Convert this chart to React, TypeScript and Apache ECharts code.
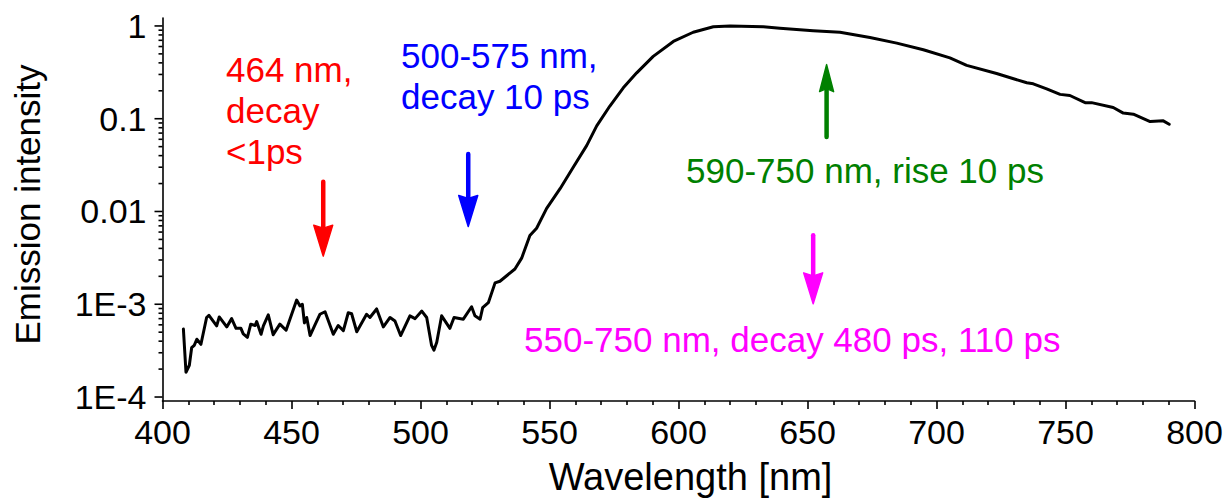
import React, { useEffect, useRef } from "react";
import * as echarts from "echarts";

// Emission spectrum (wavelength in nm, normalised intensity)
const wavelength = [
  408.1, 409.1, 410.4, 411.3, 412.3, 413.3, 414.9, 417.1, 418, 421, 422, 424.9, 426.8, 428.5,
  430.4, 431.3, 432.9, 434.2, 435.9, 436.5, 438.2, 439.1, 441, 442.9, 445.5, 447.9, 452, 453.3,
  454.2, 455, 455.9, 457.2, 459.1, 461, 463, 466.2, 468.1, 470.1, 472, 473.3, 475.3, 476.6,
  479.1, 480.4, 483, 485.6, 488.2, 490.1, 492.3, 495.9, 497.9, 500.5, 502.4, 504.3, 505.2,
  506.3, 508.2, 511.4, 513, 516.6, 519.8, 521.1, 523.1, 524.1, 526.3, 528.9, 530.8, 533.4,
  536.6, 539.2, 542.4, 545, 548.9, 554.1, 559.2, 564.4, 568.3, 573.4, 578.6, 583.8, 590.2,
  598, 605.7, 613.5, 620, 632.9, 639.3, 652.2, 662.6, 674.2, 684.6, 694.9, 705.2, 711.7,
  723.3, 735, 737.5, 742.7, 747.9, 751.7, 757.6, 760.1, 768.5, 772.4, 776.3, 782.8, 787.9, 790.2,
];
const intensity = [
  5.4e-4, 1.85e-4, 2.2e-4, 3.4e-4, 3.6e-4, 4.2e-4, 3.7e-4, 7.2e-4, 7.6e-4, 5.85e-4, 7.3e-4, 5.7e-4, 7.0e-4, 5.5e-4,
  5.5e-4, 4.8e-4, 4.4e-4, 6.1e-4, 5.9e-4, 6.5e-4, 4.75e-4, 5.85e-4, 7.7e-4, 4.7e-4, 6.1e-4, 5.25e-4, 1.11e-3, 9.6e-4,
  1.0e-3, 6.3e-4, 7.2e-4, 4.6e-4, 6.0e-4, 7.8e-4, 8.3e-4, 4.75e-4, 5.9e-4, 5.2e-4, 8.1e-4, 7.9e-4, 5.05e-4, 5.85e-4,
  7.8e-4, 7.2e-4, 8.9e-4, 5.7e-4, 7.2e-4, 6.6e-4, 4.6e-4, 7.5e-4, 7.0e-4, 8.45e-4, 7.2e-4, 3.6e-4, 3.2e-4,
  3.9e-4, 7.5e-4, 5.5e-4, 7.2e-4, 6.9e-4, 9.4e-4, 7.5e-4, 6.9e-4, 9.2e-4, 1.04e-3, 1.7e-3, 1.77e-3, 2.03e-3,
  2.4e-3, 3.14e-3, 5.5e-3, 6.6e-3, 0.0108, 0.0176, 0.03, 0.0513, 0.0838, 0.137, 0.215, 0.312, 0.47,
  0.68, 0.855, 0.98, 1.0, 0.98, 0.945, 0.89, 0.855, 0.75, 0.653, 0.554, 0.452, 0.376,
  0.307, 0.244, 0.238, 0.21, 0.183, 0.178, 0.149, 0.149, 0.132, 0.115, 0.112, 0.0933, 0.0948, 0.0873,
];

// Axis ticks
const xTicks = [400, 450, 500, 550, 600, 650, 700, 750, 800];
const yTickValues = [1e-4, 1e-3, 1e-2, 1e-1, 1];
const yTickLabels = ["1E-4", "1E-3", "0.01", "0.1", "1"];
const yMinorMultipliers = [2, 3, 4, 5, 6, 7, 8, 9];

// Annotation arrows (wavelength, start intensity, end intensity)
const arrowWavelength = [462.3, 518.5, 657.4, 652.2];
const arrowFrom = [0.0209, 0.0417, 0.0634, 0.00554];
const arrowTo = [0.0033, 0.0069, 0.383, 0.00101];
const arrowColors = ["#ff0000", "#0000ff", "#008000", "#ff00ff"];

const annotationTexts = [
  "464 nm,\ndecay\n<1ps",
  "500-575 nm,\ndecay 10 ps",
  "590-750 nm, rise 10 ps",
  "550-750 nm, decay 480 ps, 110 ps",
];

const FONT = "'Liberation Sans', Arial, Helvetica, sans-serif";

export default function App() {
  const ref = useRef<HTMLDivElement>(null);

  useEffect(() => {
    if (!ref.current) return;
    const chart = echarts.init(ref.current, undefined, { renderer: "svg" });

    const lineData = wavelength.map((w, i) => [w, intensity[i]]);

    const tickData: number[][] = [];
    yTickValues.forEach((v) => tickData.push([xTicks[0], v, 8]));
    yTickValues.slice(0, -1).forEach((v) =>
      yMinorMultipliers.forEach((m) => tickData.push([xTicks[0], v * m, 4]))
    );

    const arrowData = arrowWavelength.map((w, i) => [w, arrowFrom[i], arrowTo[i], i]);

    const textPos = [
      { x: 226, y: 49 },
      { x: 401, y: 35 },
      { x: 686, y: 150 },
      { x: 524, y: 319 },
    ];

    const option: any = {
      animation: false,
      backgroundColor: "#ffffff",
      grid: { left: 162.5, right: 32.5, top: 18, bottom: 97, containLabel: false },
      xAxis: {
        type: "value",
        min: 400,
        max: 800,
        interval: 50,
        name: "Wavelength [nm]",
        nameLocation: "middle",
        nameGap: 57,
        nameTextStyle: { fontSize: 38, fontFamily: FONT, color: "#000", padding: [0, 0, 0, 24] },
        axisLine: { show: true, onZero: false, lineStyle: { color: "#000", width: 1.6 } },
        axisTick: { show: true, length: 8, lineStyle: { color: "#000", width: 1.6 } },
        minorTick: { show: true, splitNumber: 5, length: 4, lineStyle: { color: "#000", width: 1.6 } },
        splitLine: { show: false },
        minorSplitLine: { show: false },
        axisLabel: { fontSize: 34, fontFamily: FONT, color: "#000", margin: 14 },
      },
      yAxis: {
        type: "log",
        logBase: 10,
        min: 9.06e-5,
        max: 1.218,
        name: "Emission intensity",
        nameLocation: "middle",
        nameGap: 118,
        nameRotate: 90,
        nameTextStyle: { fontSize: 35, fontFamily: FONT, color: "#000", padding: [0, 0, 0, 10] },
        axisLine: { show: true, onZero: false, lineStyle: { color: "#000", width: 1.6 } },
        axisTick: { show: false },
        splitLine: { show: false },
        axisLabel: {
          fontSize: 34,
          fontFamily: FONT,
          color: "#000",
          margin: 16,
          showMinLabel: false,
          showMaxLabel: false,
          formatter: (v: number) => {
            const idx = yTickValues.findIndex((t) => Math.abs(Math.log10(v) - Math.log10(t)) < 1e-6);
            return idx >= 0 ? yTickLabels[idx] : "";
          },
        },
      },
      series: [
        {
          type: "line",
          data: lineData,
          showSymbol: false,
          symbol: "none",
          lineStyle: { color: "#000", width: 3, join: "round", cap: "round" },
          z: 3,
        },
        {
          type: "custom",
          data: tickData,
          clip: false,
          silent: true,
          encode: { x: 0, y: 1 },
          renderItem: (params: any, api: any) => {
            const p = api.coord([api.value(0), api.value(1)]);
            const len = api.value(2);
            return {
              type: "line",
              shape: { x1: p[0] - len, y1: p[1], x2: p[0], y2: p[1] },
              style: { stroke: "#000", lineWidth: 1.6 },
            };
          },
          z: 4,
        },
        {
          type: "custom",
          data: arrowData,
          clip: false,
          silent: true,
          encode: { x: 0, y: 1 },
          renderItem: (params: any, api: any) => {
            const x = api.value(0);
            const p0 = api.coord([x, api.value(1)]);
            const p1 = api.coord([x, api.value(2)]);
            const idx = api.value(3);
            const color = arrowColors[idx];
            const dir = p1[1] > p0[1] ? 1 : -1;
            const headLen = idx === 2 ? 27 : 31;
            const halfW = idx === 2 ? 7 : 9.5;
            const baseY = p1[1] - dir * headLen;
            return {
              type: "group",
              children: [
                {
                  type: "line",
                  shape: { x1: p0[0], y1: p0[1], x2: p1[0], y2: baseY + dir * 4 },
                  style: { stroke: color, lineWidth: 4.5, lineCap: "round" },
                },
                {
                  type: "polygon",
                  shape: {
                    points: [
                      [p1[0], p1[1]],
                      [p1[0] - halfW, baseY],
                      [p1[0], baseY + dir * 3],
                      [p1[0] + halfW, baseY],
                    ],
                  },
                  style: { fill: color, stroke: color, lineWidth: 1.5, lineJoin: "round" },
                },
              ],
            };
          },
          z: 5,
        },
      ],
      graphic: annotationTexts.map((t, i) => ({
        type: "text",
        x: textPos[i].x,
        y: textPos[i].y,
        style: {
          text: t,
          fill: arrowColors[i],
          fontSize: 35,
          fontFamily: FONT,
          lineHeight: 41,
          align: "left",
          verticalAlign: "top",
        },
      })),
    };

    chart.setOption(option);
    return () => chart.dispose();
  }, []);

  return (
    <div
      ref={ref}
      style={{ position: "fixed", left: 0, top: 0, width: 1227, height: 501, background: "#fff" }}
    />
  );
}
